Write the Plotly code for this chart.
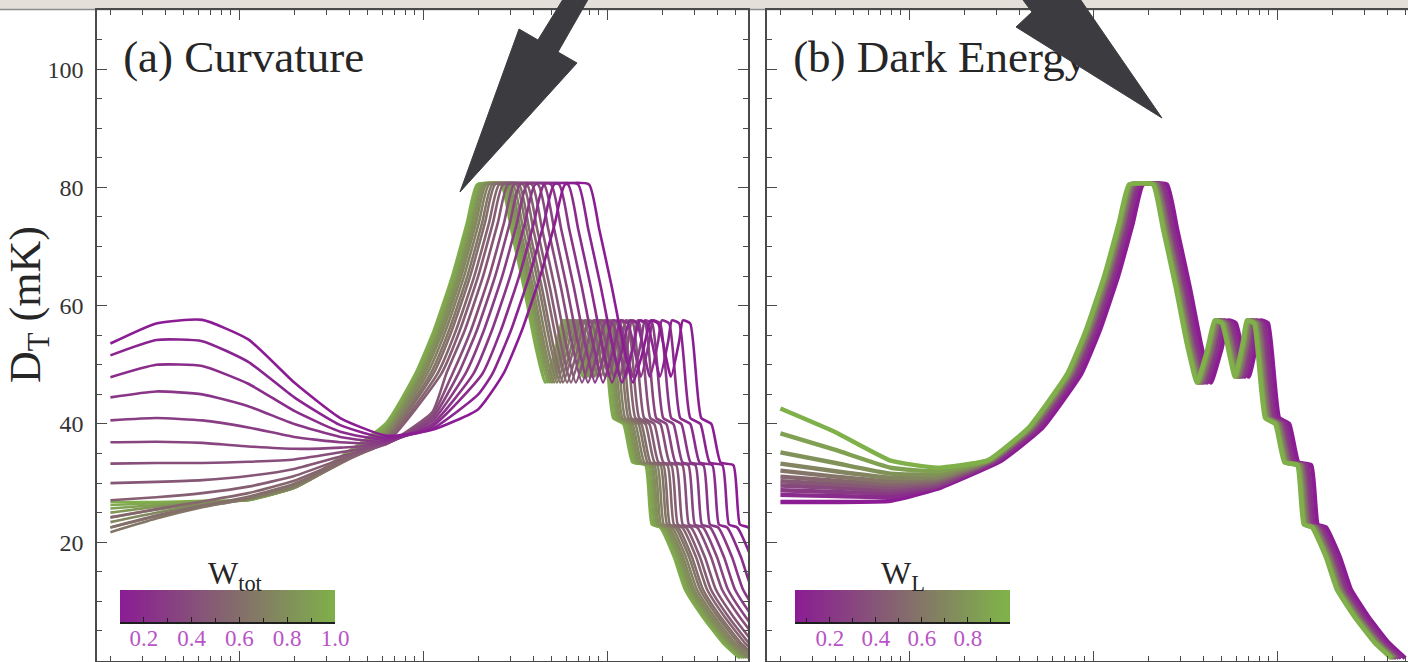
import numpy as np
import plotly.graph_objects as go

FIG_W, FIG_H = 1408, 662

# ---------------- data ----------------
# shared acoustic-peak shape: offset in log10(l) from the first-peak centre, D_T in mK
TPL_OFF = [-1.17, -0.83, -0.61, -0.40, -0.30, -0.20, -0.12, -0.065, 0.065, 0.12, 0.19, 0.25,
           0.304, 0.36, 0.40, 0.44, 0.51, 0.555, 0.575, 0.615, 0.675, 0.73, 0.78, 0.85,
           0.885, 0.93, 1.005, 1.065, 1.16, 1.27, 1.36]
TPL_VAL = [29.3, 33.9, 39.4, 48.5, 55.8, 65.0, 74.0, 80.5, 80.5, 73.0, 63.0, 53.5,
           47.0, 52.5, 57.5, 57.0, 48.0, 54.0, 57.5, 57.0, 41.0, 40.0, 33.5, 33.0,
           23.0, 22.5, 17.5, 12.0, 7.4, 3.0, 0.4]

# (a) Curvature
W_TOT = [0.10, 0.15, 0.20, 0.25, 0.30, 0.35, 0.40, 0.45, 0.50, 0.55,
         0.60, 0.65, 0.70, 0.75, 0.80, 0.85, 0.90, 0.95, 1.00]
PEAK_L_A = [687, 599, 528, 472, 427, 391, 363, 336, 316, 301,
            286, 276, 265, 256, 249, 243, 237, 231, 228]
LOWL_LOG_A = [0.301, 0.55, 0.8, 1.05, 1.3, 1.55, 1.8, 2.05, 2.3]
LOWL_A = [
    [53.6, 57.0, 57.6, 54.3, 47.0, 41.0, 38.0, 39.0, 42.5],
    [51.6, 54.2, 54.0, 50.5, 44.5, 39.8, 37.6, 39.2, 45.0],
    [47.9, 50.0, 49.8, 46.8, 42.2, 38.7, 37.3, 39.6, 46.5],
    [44.5, 45.5, 45.0, 43.0, 40.0, 37.8, 37.0, 40.0, 47.5],
    [40.6, 41.0, 40.6, 39.4, 37.8, 36.9, 36.8, 40.5, 48.5],
    [36.9, 37.0, 36.8, 36.2, 35.8, 36.0, 36.7, 41.0, 50.0],
    [33.3, 33.4, 33.4, 33.6, 34.0, 35.2, 36.6, 41.5, 52.0],
    [30.0, 30.2, 30.5, 31.2, 32.4, 34.5, 36.6, 42.0, 54.0],
    [27.1, 27.6, 28.3, 29.4, 31.2, 34.0, 36.8, 42.5, 56.0],
    [24.2, 25.6, 26.9, 28.3, 30.4, 33.6, 37.0, 43.5, 58.0],
    [22.5, 24.5, 26.2, 27.7, 29.9, 33.4, 37.3, 44.5, 60.0],
    [21.7, 24.0, 25.9, 27.4, 29.6, 33.3, 37.6, 45.5, 62.0],
    [22.5, 24.4, 26.0, 27.3, 29.4, 33.3, 37.9, 46.5, 64.0],
    [23.4, 25.0, 26.3, 27.3, 29.3, 33.4, 38.3, 47.5, 66.0],
    [24.2, 25.5, 26.5, 27.3, 29.2, 33.5, 38.6, 48.5, 68.0],
    [25.0, 26.0, 26.7, 27.2, 29.2, 33.6, 39.0, 49.5, 70.0],
    [25.7, 26.3, 26.8, 27.2, 29.2, 33.8, 39.4, 50.5, 72.0],
    [26.3, 26.6, 26.9, 27.1, 29.2, 34.0, 39.8, 51.5, 74.0],
    [26.8, 26.8, 27.0, 27.1, 29.3, 34.4, 40.2, 52.5, 76.0],
]

# (b) Dark Energy
W_L = [0.05, 0.14, 0.23, 0.32, 0.41, 0.50, 0.59, 0.68, 0.77, 0.86, 0.95]
PEAK_L_B = [217, 207, 201, 196, 194, 192, 189, 187, 185, 184, 182]
LOWL_LOG_B = [0.301, 0.6, 0.9, 1.15]
LOWL_B = [
    [26.8, 26.8, 27.0, 29.0],
    [28.0, 27.8, 27.7, 29.3],
    [28.8, 28.5, 28.3, 29.5],
    [29.6, 29.2, 28.8, 29.8],
    [30.3, 29.8, 29.3, 30.1],
    [31.1, 30.4, 29.8, 30.4],
    [32.1, 31.1, 30.3, 30.7],
    [33.3, 32.0, 30.9, 31.0],
    [35.2, 33.4, 31.6, 31.5],
    [38.4, 35.6, 32.6, 32.0],
    [42.6, 38.6, 33.8, 32.6],
]

Y_TICKS = [20, 40, 60, 80, 100]
CBAR_A_TICKS = [0.2, 0.4, 0.6, 0.8, 1.0]
CBAR_B_TICKS = [0.2, 0.4, 0.6, 0.8]

# ---------------- styling helpers ----------------
PURPLE = (139, 28, 148)
GREEN = (127, 176, 74)
SERIF = "Liberation Serif, Times New Roman, serif"


def mix(t):
    t = min(max(t, 0.0), 1.0)
    c = [round(PURPLE[i] + (GREEN[i] - PURPLE[i]) * t) for i in range(3)]
    return f"rgb({c[0]},{c[1]},{c[2]})"


def px_x(px):
    return px / FIG_W


def px_y(py):
    return 1 - py / FIG_H


def build_curve(low_logs, low_vals, peak_l, join_off):
    c = np.log10(peak_l)
    start = c + join_off
    xs, ys = [], []
    for lg, v in zip(low_logs, low_vals):
        if lg < start - 0.05:
            xs.append(10 ** lg)
            ys.append(v)
    for o, v in zip(TPL_OFF, TPL_VAL):
        if o >= join_off - 1e-9:
            xs.append(10 ** (c + o))
            ys.append(v)
    return xs, ys


fig = go.Figure()

# panel (a): draw green first so purple lies on top
for i in reversed(range(len(W_TOT))):
    xs, ys = build_curve(LOWL_LOG_A, LOWL_A[i], PEAK_L_A[i], -0.40)
    fig.add_trace(go.Scatter(x=xs, y=ys, mode="lines", xaxis="x", yaxis="y",
                             line=dict(color=mix((W_TOT[i] - 0.1) / 0.9), width=2.6,
                                       shape="spline", smoothing=0.5),
                             hoverinfo="skip", showlegend=False))

# panel (b): purple first, green on top
for i in range(len(W_L)):
    xs, ys = build_curve(LOWL_LOG_B, LOWL_B[i], PEAK_L_B[i], -0.83)
    fig.add_trace(go.Scatter(x=xs, y=ys, mode="lines", xaxis="x2", yaxis="y2",
                             line=dict(color=mix((W_L[i] - 0.05) / 0.9), width=4.4,
                                       shape="spline", smoothing=0.4),
                             hoverinfo="skip", showlegend=False))

# panel labels as text traces (so that the arrows can lie above them)
fig.add_trace(go.Scatter(x=[10 ** 0.37], y=[101.5], mode="text", text=["(a) Curvature"],
                         textposition="middle right", xaxis="x", yaxis="y",
                         textfont=dict(family=SERIF, size=45, color="#262626"),
                         hoverinfo="skip", showlegend=False, cliponaxis=False))
fig.add_trace(go.Scatter(x=[10 ** 0.37], y=[101.5], mode="text", text=["(b) Dark Energy"],
                         textposition="middle right", xaxis="x2", yaxis="y2",
                         textfont=dict(family=SERIF, size=45, color="#262626"),
                         hoverinfo="skip", showlegend=False, cliponaxis=False))

# colour bars as heatmaps
ramp_a = np.linspace(0.1, 1.0, 200)
fig.add_trace(go.Heatmap(z=[ramp_a], x=ramp_a, y=[0.5], xaxis="x3", yaxis="y3",
                         colorscale=[[0, mix(0)], [1, mix(1)]], zmin=0.1, zmax=1.0,
                         showscale=False, hoverinfo="skip"))
ramp_b = np.linspace(0.048, 0.983, 200)
fig.add_trace(go.Heatmap(z=[ramp_b], x=ramp_b, y=[0.5], xaxis="x4", yaxis="y4",
                         colorscale=[[0, mix(0)], [1, mix(1)]], zmin=0.05, zmax=0.95,
                         showscale=False, hoverinfo="skip"))

minor_log = [m * 10 ** e for e in range(0, 4) for m in range(2, 10)]
AX_COL = "#4a4a4a"

x_common = dict(type="log", showline=True, linecolor=AX_COL, linewidth=1.5,
                mirror="ticks", ticks="inside", ticklen=10, tickwidth=1.2,
                tickcolor=AX_COL, tickvals=[10, 100, 1000], showticklabels=False,
                showgrid=False, zeroline=False, automargin=False,
                minor=dict(tickvals=minor_log, ticks="inside", ticklen=5,
                           tickcolor=AX_COL, tickwidth=1.1, showgrid=False))
y_dom = [px_y(660.5), px_y(10)]
y_common = dict(range=[0, 110], domain=y_dom, showline=True, linecolor=AX_COL,
                linewidth=1.5, ticks="inside", ticklen=10, tickwidth=1.2,
                tickcolor=AX_COL, tickvals=Y_TICKS, showgrid=False, zeroline=False,
                automargin=False,
                minor=dict(dtick=5, ticks="inside", ticklen=5, tickcolor=AX_COL,
                           tickwidth=1.1, showgrid=False))

cbar_font = dict(family=SERIF, size=23, color="rgb(184,84,198)")
fig.update_layout(
    width=FIG_W, height=FIG_H,
    margin=dict(l=0, r=0, t=0, b=0),
    paper_bgcolor="white", plot_bgcolor="white",
    xaxis=dict(**x_common, domain=[px_x(97), px_x(748)], range=[0.228, 3.766], anchor="y"),
    yaxis=dict(**y_common, anchor="x", mirror="ticks", showticklabels=True,
               ticklabelstandoff=7,
               tickfont=dict(family=SERIF, size=24, color="#333333")),
    xaxis2=dict(**x_common, domain=[px_x(767), 1.0], range=[0.228, 3.712], anchor="y2"),
    yaxis2=dict(**y_common, anchor="x2", mirror=False, showticklabels=False),
    xaxis3=dict(domain=[px_x(120), px_x(335)], range=[0.1, 1.0], anchor="y3",
                showline=True, linecolor="#1e1e1e", linewidth=2, ticks="inside",
                ticklen=5, tickcolor="#1e1e1e", tickvals=CBAR_A_TICKS,
                ticktext=[f"{v:.1f}" for v in CBAR_A_TICKS], showgrid=False,
                zeroline=False, automargin=False, ticklabelstandoff=-6,
                tickfont=cbar_font,
                minor=dict(dtick=0.1, tick0=0.0, ticks="inside", ticklen=4,
                           tickcolor="#1e1e1e", showgrid=False)),
    yaxis3=dict(domain=[px_y(622), px_y(590)], range=[0, 1], anchor="x3",
                visible=False, automargin=False),
    xaxis4=dict(domain=[px_x(795), px_x(1010)], range=[0.048, 0.983], anchor="y4",
                showline=True, linecolor="#1e1e1e", linewidth=2, ticks="inside",
                ticklen=5, tickcolor="#1e1e1e", tickvals=CBAR_B_TICKS,
                ticktext=[f"{v:.1f}" for v in CBAR_B_TICKS], showgrid=False,
                zeroline=False, automargin=False, ticklabelstandoff=-6,
                tickfont=cbar_font,
                minor=dict(dtick=0.1, tick0=0.0, ticks="inside", ticklen=4,
                           tickcolor="#1e1e1e", showgrid=False)),
    yaxis4=dict(domain=[px_y(622), px_y(590)], range=[0, 1], anchor="x4",
                visible=False, automargin=False),
)

# y-axis title and colour-bar titles
fig.add_annotation(text="D<sub>T</sub> (mK)", x=px_x(28), y=px_y(305), xref="paper",
                   yref="paper", textangle=-90, showarrow=False, xanchor="center",
                   yanchor="middle",
                   font=dict(family=SERIF, size=44, color="#262626"))
fig.add_annotation(text="W<sub>tot</sub>", x=px_x(235), y=px_y(575), xref="paper",
                   yref="paper", showarrow=False, xanchor="center", yanchor="middle",
                   font=dict(family=SERIF, size=32, color="#262626"))
fig.add_annotation(text="W<sub>L</sub>", x=px_x(903), y=px_y(575), xref="paper",
                   yref="paper", showarrow=False, xanchor="center", yanchor="middle",
                   font=dict(family=SERIF, size=32, color="#262626"))

# textured top strip of the slide
fig.add_shape(type="rect", xref="paper", yref="paper", x0=0, x1=1, y0=px_y(9), y1=1.0,
              fillcolor="rgb(228,223,216)", line=dict(width=0), layer="below")
fig.add_shape(type="line", xref="paper", yref="paper", x0=0, x1=1, y0=px_y(9.5),
              y1=px_y(9.5), line=dict(color="rgb(140,140,140)", width=1.5), layer="below")


def poly(points):
    parts = [f"{px_x(x):.5f},{px_y(y):.5f}" for x, y in points]
    return "M " + " L ".join(parts) + " Z"


ARROW_COL = "rgb(60,60,64)"
arrow1 = [(565, -4), (538, 40), (519, 29), (460, 192), (577, 63), (558, 52), (590, -4)]
arrow2 = [(1020, -4), (1032, 12), (1016, 27), (1162, 118), (1078, -4)]
for pts in (arrow1, arrow2):
    fig.add_shape(type="path", xref="paper", yref="paper", path=poly(pts),
                  fillcolor=ARROW_COL, line=dict(color=ARROW_COL, width=1), layer="above")

fig.write_html(
    "out.html",
    config={"displayModeBar": False},
    post_script=("document.body.style.margin='0';"
                 "document.body.style.overflow='hidden';"
                 "document.documentElement.style.overflow='hidden';"),
)
